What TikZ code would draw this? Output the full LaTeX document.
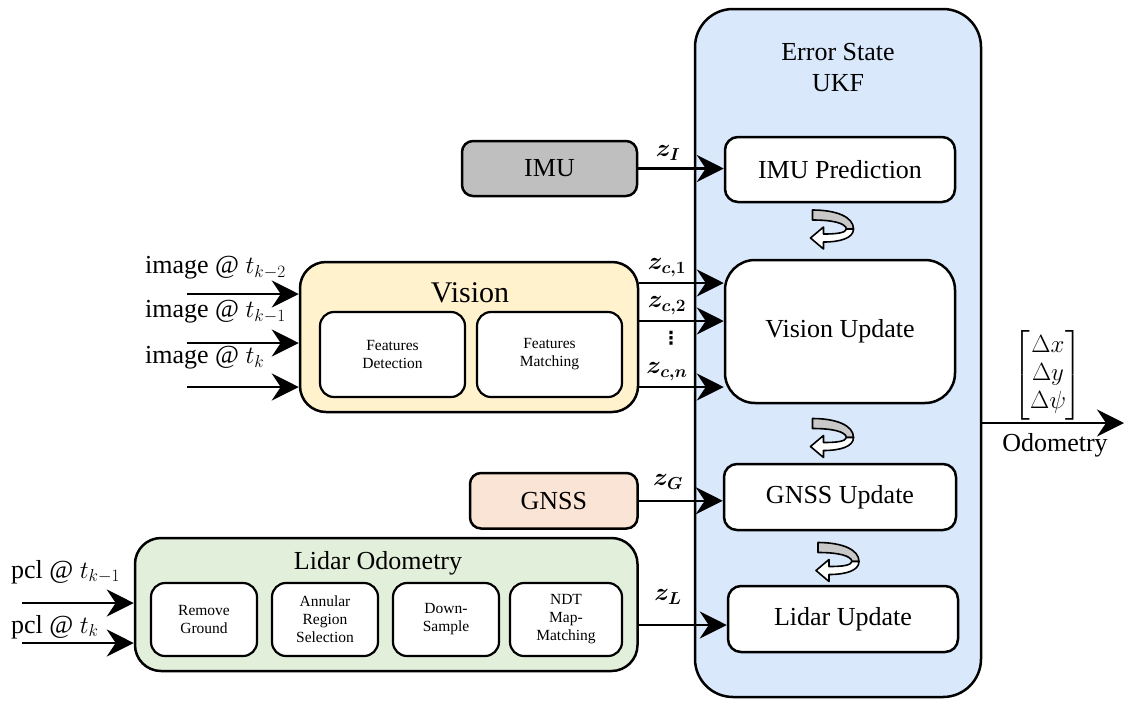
\documentclass[tikz,border=0pt]{standalone}
\usepackage{amsmath,bm}
\usepackage{fontspec}
\setmainfont{Liberation Serif}
\newfontfamily\dejavu{DejaVu Sans}
\usetikzlibrary{arrows.meta,calc}
\definecolor{ukfblue}{HTML}{DAE8FC}
\definecolor{visyellow}{HTML}{FFF2CC}
\definecolor{gnssorange}{HTML}{FAE4D6}
\definecolor{lidargreen}{HTML}{E2EFDA}
\definecolor{imugray}{HTML}{BFBFBF}
\definecolor{turngray}{HTML}{C8C8C8}
\newcommand\fsmain{\fontsize{26}{30}\selectfont}
\newcommand\fsvis{\fontsize{30}{34}\selectfont}
\newcommand\fsukf{\fontsize{26}{31}\selectfont}
\newcommand\fsinner{\fontsize{15.5}{18}\selectfont}
\newcommand\fsmath{\fontsize{24}{28}\selectfont}
\tikzset{
  x=1pt, y=-1pt,
  boxbase/.style={draw, line width=2.5pt, inner sep=0pt, align=center},
  ukfbox/.style={boxbase, fill=ukfblue, rounded corners=38pt},
  groupbox/.style={boxbase, rounded corners=26pt},
  stepbox/.style={boxbase, fill=white, rounded corners=13pt, font=\fsmain},
  srcbox/.style={boxbase, rounded corners=11pt, font=\fsmain},
  innerbox/.style={draw, line width=2.2pt, inner sep=0pt, fill=white, rounded corners=14pt, align=center, font=\fsinner},
  arr/.style={line width=2.5pt, -{Stealth[length=27pt,width=27pt,inset=9pt]}},
  lbl/.style={inner sep=0pt, font=\fsmain},
  mlbl/.style={inner sep=0pt, font=\fsmath},
  turnarrow/.pic={
    \draw[line width=1.6pt, fill=turngray, line join=round]
      (-20,-19) .. controls (4,-19) and (21,-12) .. (21,0) -- (14,0)
      .. controls (13,-6) and (0,-9) .. (-20,-9) -- cycle;
    \draw[line width=1.6pt, fill=white, line join=round]
      (21,0) .. controls (21,9) and (8,13) .. (-9,13) -- (-9,20) -- (-22,9)
      -- (-9,-2) -- (-9,5) .. controls (4,5) and (13,4) .. (14,0) -- cycle;
  }
}
\begin{document}
\begin{tikzpicture}
\useasboundingbox (0,0) rectangle (1127,705);

% UKF container
\node[ukfbox, minimum width=286pt, minimum height=688pt] (ukf) at (838,353) {};
\node[inner sep=0pt, align=center, font=\fsukf] (ukftitle) at (838,68) {Error State\\UKF};

% UKF steps
\node[stepbox, minimum width=230pt, minimum height=65pt] (ip) at (840,169.5) {IMU Prediction};
\node[stepbox, rounded corners=30pt, minimum width=230pt, minimum height=143pt] (vu) at (840,331.5) {Vision Update};
\node[stepbox, minimum width=232pt, minimum height=66pt] (gu) at (840,497) {GNSS Update};
\node[stepbox, minimum width=230pt, minimum height=66pt] (lu) at (843,619) {Lidar Update};

\pic at (832.5,229) {turnarrow};
\pic at (832.5,437.5) {turnarrow};
\pic at (838,561.5) {turnarrow};

% sources
\node[srcbox, fill=imugray, minimum width=175pt, minimum height=55pt] (imu) at (549.5,168.5) {IMU};
\node[srcbox, fill=gnssorange, minimum width=167.5pt, minimum height=55.5pt] (gnss) at (553.75,500.75) {GNSS};

% Vision group
\node[groupbox, fill=visyellow, minimum width=338pt, minimum height=150pt] (vision) at (469,337) {};
\node[inner sep=0pt, font=\fsvis] (visiontitle) at (470,293) {Vision};
\node[innerbox, minimum width=145pt, minimum height=85pt] (fd) at (392.5,354.5) {Features\\Detection};
\node[innerbox, minimum width=145pt, minimum height=85pt] (fm) at (549.5,354.5) {Features\\Matching};

% Lidar group
\node[groupbox, fill=lidargreen, minimum width=502.5pt, minimum height=133pt] (lidar) at (386.25,604.5) {};
\node[inner sep=0pt, font=\fsmain] (lidartitle) at (378,563) {Lidar Odometry};
\node[innerbox, minimum width=106pt, minimum height=73pt] (rg) at (204,619.5) {Remove\\Ground};
\node[innerbox, minimum width=106pt, minimum height=73pt] (ar) at (325,619.5) {Annular\\Region\\Selection};
\node[innerbox, minimum width=106pt, minimum height=73pt] (ds) at (446,619.5) {Down-\\Sample};
\node[innerbox, minimum width=112pt, minimum height=73pt] (ndt) at (566,619.5) {NDT\\Map-\\Matching};

% image inputs
\node[lbl, anchor=west] (img1) at (145,268) {image @ $t_{k-2}$};
\node[lbl, anchor=west] (img2) at (145,312) {image @ $t_{k-1}$};
\node[lbl, anchor=west] (img3) at (145,358) {image @ $t_{k}$};
\coordinate (i1) at (187,294);
\coordinate (i2) at (187,343);
\coordinate (i3) at (187,387);
\draw[arr] (i1) -- (i1 -| vision.west);
\draw[arr] (i2) -- (i2 -| vision.west);
\draw[arr] (i3) -- (i3 -| vision.west);

% pcl inputs
\node[lbl, anchor=west] (pcl1) at (11,572) {pcl @ $t_{k-1}$};
\node[lbl, anchor=west] (pcl2) at (11,627) {pcl @ $t_{k}$};
\coordinate (p1) at (22,603);
\coordinate (p2) at (22,643);
\draw[arr] (p1) -- (p1 -| lidar.west);
\draw[arr] (p2) -- (p2 -| lidar.west);

% measurement arrows
\draw[arr] (imu.east) -- (imu.east -| ip.west);
\node[mlbl] (zi) at (668,153) {$\bm{z_I}$};

\draw[arr] ([yshift=54pt]vision.east) -- ([yshift=54pt]vision.east -| vu.west);
\draw[arr] ([yshift=16pt]vision.east) -- ([yshift=16pt]vision.east -| vu.west);
\draw[arr] ([yshift=-50pt]vision.east) -- ([yshift=-50pt]vision.east -| vu.west);
\node[mlbl] (zc1) at (667,268) {$\bm{z_{c,1}}$};
\node[mlbl] (zc2) at (667,306) {$\bm{z_{c,2}}$};
\node[inner sep=0pt, font=\dejavu\bfseries\fontsize{18}{18}\selectfont] (zdots) at (671,338) {⋮};
\node[mlbl] (zcn) at (667,372) {$\bm{z_{c,n}}$};

\draw[arr] (gnss.east) -- (gnss.east -| gu.west);
\node[mlbl] (zg) at (668,482) {$\bm{z_G}$};

\draw[arr] ([yshift=-20.5pt]lidar.east) -- ([yshift=-20.5pt]lidar.east -| lu.west);
\node[mlbl] (zl) at (668,597) {$\bm{z_L}$};

% odometry output
\coordinate (odoend) at (1124,423);
\draw[arr] (ukf.east |- odoend) -- (odoend);
\node[inner sep=0pt, font=\fsmath] (odovec) at (1048,375) {$\begin{bmatrix}\Delta x\\ \Delta y\\ \Delta\psi\end{bmatrix}$};
\node[lbl] (odolbl) at (1055,445) {Odometry};
\end{tikzpicture}
\end{document}
